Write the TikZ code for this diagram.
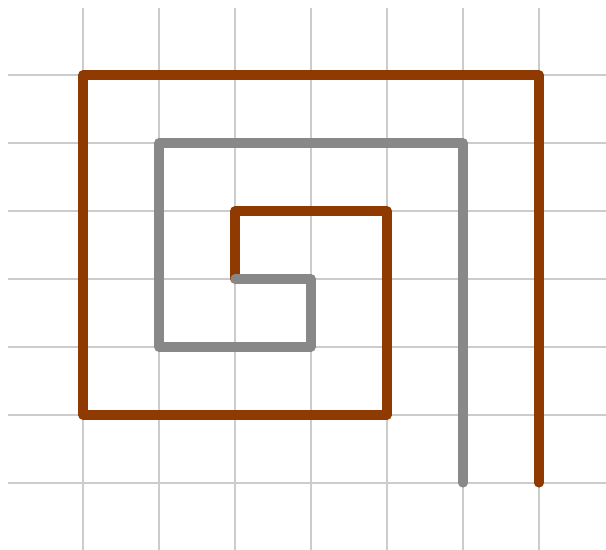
\documentclass[tikz,border=0pt]{standalone}
\usepackage{xcolor}
\usepackage{tikz}
\usetikzlibrary{calc}
\definecolor{spRust}{HTML}{8E3A00}
\definecolor{spGray}{HTML}{888888}
\definecolor{spGrid}{HTML}{CCCCCC}
\tikzset{
  gridline/.style={line width=1.1pt, spGrid},
  spiral/.style={line width=5.2pt, line cap=round, line join=round},
  rustpath/.style={spiral, spRust},
  graypath/.style={spiral, spGray}
}
\begin{document}
\begin{tikzpicture}[x=1.52cm, y=1.36cm]
  \useasboundingbox (-1.092,-0.985) rectangle (6.882,7.103);
  % grid
  \foreach \i in {0,...,6} {
    \draw[gridline] (\i,-1) -- (\i,6.985);
    \draw[gridline] (-0.986,\i) -- (7,\i);
  }
  % corner points of the two spirals
  \coordinate (r0) at (6,0);
  \coordinate (r1) at (6,6);
  \coordinate (r2) at (0,6);
  \coordinate (r3) at (0,1);
  \coordinate (r4) at (4,1);
  \coordinate (r5) at (4,4);
  \coordinate (r6) at (2,4);
  \coordinate (r7) at (2,3);
  \coordinate (g0) at (5,0);
  \coordinate (g1) at (5,5);
  \coordinate (g2) at (1,5);
  \coordinate (g3) at (1,2);
  \coordinate (g4) at (3,2);
  \coordinate (g5) at (3,3);
  \draw[rustpath] (r0) -- (r1) -- (r2) -- (r3) -- (r4) -- (r5) -- (r6) -- (r7);
  \draw[graypath] (g0) -- (g1) -- (g2) -- (g3) -- (g4) -- (g5) -- (r7);
\end{tikzpicture}
\end{document}
